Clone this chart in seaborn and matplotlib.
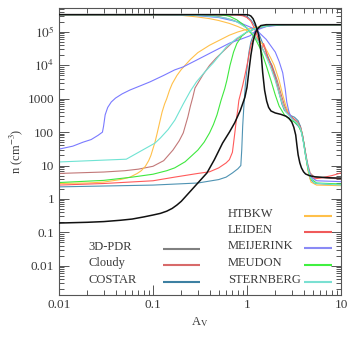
import numpy as np
import pandas as pd
import matplotlib
matplotlib.use("Agg")
import matplotlib.pyplot as plt
import seaborn as sns
from matplotlib.ticker import LogLocator, NullFormatter

# Model names and line colours
models = ["3D-PDR", "Cloudy", "COSTAR", "HTBKW", "LEIDEN", "MEIJERINK", "MEUDON", "STERNBERG"]
colors = ["#111111", "#c27878", "#4f93b3", "#ffc04a", "#ff5a5a", "#7a7aff", "#3ee83e", "#6fe3d3"]
legend_colors = ["#808080", "#d86a6a", "#3d80a2", "#ffc04a", "#f05a5a", "#8a8af5", "#40f040", "#7ae0d2"]

# n(H2) profiles (A_V, n)
h2_av = {
    "3D-PDR":    [0.01, 0.02, 0.03, 0.045, 0.06, 0.08, 0.1, 0.12, 0.14, 0.16, 0.18, 0.2, 0.25, 0.3, 0.375,
                  0.45, 0.55, 0.65, 0.74, 0.85, 0.95, 1.0, 1.05, 1.1, 1.16, 1.22, 1.28, 1.4, 1.6, 10],
    "Cloudy":    [0.01, 0.03, 0.05, 0.07, 0.1, 0.13, 0.163, 0.19, 0.21, 0.235, 0.25, 0.265, 0.28, 0.34,
                  0.4, 0.47, 0.6, 0.71, 1.0, 1.3, 1.8, 2.5, 10],
    "COSTAR":    [0.01, 0.1, 0.3, 0.5, 0.6, 0.7, 0.8, 0.86, 0.88, 0.9, 0.93, 0.96, 1.0, 1.05, 1.1, 1.2,
                  1.35, 1.6, 2.0, 10],
    "HTBKW":     [0.01, 0.02, 0.03, 0.045, 0.057, 0.068, 0.075, 0.083, 0.09, 0.095, 0.1, 0.105, 0.11, 0.118,
                  0.125, 0.133, 0.14, 0.15, 0.16, 0.18, 0.2, 0.25, 0.3, 0.4, 0.5, 0.65, 0.8, 1.0, 1.2, 1.5,
                  2.0, 3.0, 10],
    "LEIDEN":    [0.01, 0.03, 0.1, 0.17, 0.3, 0.4, 0.5, 0.6, 0.65, 0.7, 0.72, 0.75, 0.77, 0.8, 0.82, 0.9,
                  0.95, 1.0, 1.1, 1.25, 1.4, 1.7, 2.5, 10],
    "MEIJERINK": [0.01, 0.014, 0.018, 0.022, 0.026, 0.029, 0.0298, 0.031, 0.033, 0.036, 0.04, 0.047, 0.057,
                  0.075, 0.093, 0.13, 0.17, 0.21, 0.3, 0.45, 0.66, 0.85, 1.08, 1.28, 1.6, 2.2, 3.0, 10],
    "MEUDON":    [0.01, 0.03, 0.06, 0.1, 0.14, 0.17, 0.22, 0.26, 0.3, 0.35, 0.4, 0.44, 0.48, 0.53, 0.58,
                  0.61, 0.66, 0.72, 0.78, 0.88, 1.0, 1.3, 1.8, 2.5, 10],
    "STERNBERG": [0.01, 0.052, 0.105, 0.12, 0.145, 0.171, 0.21, 0.25, 0.29, 0.35, 0.44, 0.6, 0.78, 1.0,
                  1.3, 1.8, 2.5, 10],
}
h2_n = {
    "3D-PDR":    [0.19, 0.2, 0.21, 0.23, 0.25, 0.29, 0.33, 0.37, 0.43, 0.52, 0.66, 0.85, 1.7, 3.0, 6,
                  15, 47, 100, 190, 450, 1100, 2200, 7000, 2e4, 5e4, 9e4, 1.2e5, 1.55e5, 1.65e5, 1.65e5],
    "Cloudy":    [5.8, 6.4, 7, 7.8, 9.5, 14, 29, 55, 95, 285, 600, 1100, 2100, 5200,
                  1e4, 1.65e4, 3.2e4, 5e4, 1e5, 1.3e5, 1.55e5, 1.65e5, 1.65e5],
    "COSTAR":    [2.3, 2.6, 3.0, 3.8, 4.5, 6, 8, 10, 30, 150, 700, 2500, 8000, 2.5e4, 5e4, 1e5,
                  1.4e5, 1.6e5, 1.65e5, 1.65e5],
    "HTBKW":     [2.9, 3.0, 3.2, 3.8, 4.5, 5.8, 7, 9.5, 14, 20, 32, 50, 85, 200,
                  400, 700, 1000, 1800, 2800, 5000, 7500, 1.5e4, 2.4e4, 4e4, 5.5e4, 8e4, 1e5, 1.2e5, 1.35e5, 1.5e5,
                  1.6e5, 1.65e5, 1.65e5],
    "LEIDEN":    [2.6, 2.9, 3.5, 4.5, 5.8, 6.5, 8.5, 12, 15, 25, 47, 120, 230, 500, 900, 2500,
                  5000, 1e4, 4e4, 1e5, 1.4e5, 1.6e5, 1.65e5, 1.65e5],
    "MEIJERINK": [31, 38, 50, 60, 80, 100, 150, 330, 550, 800, 1050, 1400, 1830,
                  2500, 3200, 5000, 7300, 9000, 1.5e4, 2.7e4, 4.7e4, 6e4, 7.7e4, 1.15e5, 1.45e5, 1.6e5, 1.65e5, 1.65e5],
    "MEUDON":    [3.1, 3.6, 4.5, 5.5, 7, 8.5, 13, 20, 29, 50, 95, 170, 330, 900, 2000,
                  3500, 1e4, 2.5e4, 4.5e4, 7.5e4, 1e5, 1.35e5, 1.58e5, 1.65e5, 1.65e5],
    "STERNBERG": [12.8, 15.5, 47, 67, 120, 230, 700, 1700, 3200, 6000, 1.2e4, 3.5e4, 6.5e4, 1e5,
                  1.35e5, 1.58e5, 1.65e5, 1.65e5],
}

# n(H) profiles (A_V, n)
h_av = {
    "3D-PDR":    [0.01, 0.9, 1.0, 1.05, 1.1, 1.16, 1.22, 1.28, 1.33, 1.37, 1.42, 1.47, 1.54, 1.62, 1.7, 1.8,
                  2.0, 2.3, 2.6, 2.8, 3.0, 3.15, 3.3, 3.4, 3.5, 3.65, 3.8, 4.0, 4.2, 4.6, 5.3, 7.6, 10],
    "Cloudy":    [0.01, 0.2, 0.3, 0.4, 0.5, 0.7, 0.85, 1.0, 1.2, 1.4, 1.6, 1.85, 2.1, 2.3, 2.5, 2.7, 3.0,
                  3.4, 3.7, 3.9, 4.1, 4.4, 4.7, 5.2, 7.0, 10],
    "COSTAR":    [0.01, 0.6, 0.8, 0.9, 1.0, 1.1, 1.2, 1.3, 1.45, 1.6, 1.8, 2.0, 2.2, 2.35, 2.5, 2.8, 3.2,
                  3.5, 3.7, 3.9, 4.1, 4.4, 4.7, 5.2, 10],
    "HTBKW":     [0.01, 0.1, 0.15, 0.2, 0.3, 0.4, 0.5, 0.65, 0.8, 1.0, 1.2, 1.4, 1.6, 1.8, 1.95, 2.2, 2.4,
                  2.6, 2.8, 3.1, 3.5, 3.8, 4.0, 4.2, 4.5, 4.8, 5.5, 10],
    "LEIDEN":    [0.01, 0.5, 0.7, 0.8, 0.9, 1.0, 1.1, 1.2, 1.3, 1.38, 1.45, 1.5, 1.55, 1.65, 1.8, 2.0, 2.2,
                  2.4, 2.6, 3.0, 3.4, 3.7, 3.9, 4.1, 4.4, 4.7, 5.2, 6.0, 8.0, 10],
    "MEIJERINK": [0.01, 0.1, 0.25, 0.5, 0.8, 1.08, 1.3, 1.6, 2.0, 2.2, 2.4, 2.55, 2.65, 2.8, 3.0, 3.3,
                  3.6, 3.8, 4.0, 4.2, 4.5, 4.8, 5.5, 10],
    "MEUDON":    [0.01, 0.3, 0.5, 0.6, 0.66, 0.78, 0.88, 1.0, 1.2, 1.4, 1.6, 1.8, 2.0, 2.2, 2.5, 2.8, 3.2,
                  3.5, 3.8, 4.0, 4.2, 4.5, 4.8, 5.5, 10],
    "STERNBERG": [0.01, 0.15, 0.25, 0.35, 0.44, 0.6, 0.78, 1.0, 1.2, 1.4, 1.6, 1.75, 2.0, 2.2, 2.4, 2.6,
                  3.0, 3.4, 3.7, 3.9, 4.1, 4.4, 4.7, 5.2, 10],
}
h_n = {
    "3D-PDR":    [3.3e5, 3.3e5, 3.28e5, 3.2e5, 3.0e5, 2.5e5, 1.8e5, 1.2e5, 8e4, 5e4, 2e4, 6e3, 1.8e3, 850, 550, 430,
                  375, 340, 300, 260, 200, 140, 82, 40, 21, 12, 8.5, 6.5, 5.6, 5.0, 4.6, 4.3, 4.2],
    "Cloudy":    [3.3e5, 3.3e5, 3.2e5, 3.05e5, 2.9e5, 2.3e5, 1.8e5, 1.3e5, 8e4, 4e4, 2e4, 1e4, 3500, 1400, 650, 400, 280,
                  210, 150, 80, 35, 12, 6, 4.5, 4.2, 4.0],
    "COSTAR":    [3.3e5, 3.3e5, 3.28e5, 3.2e5, 2.9e5, 2.3e5, 1.6e5, 1.1e5, 5e4, 2.5e4, 1.1e4, 4500, 1500, 700, 450, 330, 280,
                  220, 150, 80, 35, 10, 4, 2.9, 2.6],
    "HTBKW":     [3.3e5, 3.3e5, 3.25e5, 3.15e5, 2.8e5, 2.5e5, 2.2e5, 1.8e5, 1.45e5, 1.1e5, 8e4, 5e4, 3e4, 1.6e4, 1e4, 3500, 1300,
                  600, 350, 240, 180, 110, 50, 20, 6, 3.2, 2.6, 2.5],
    "LEIDEN":    [3.3e5, 3.3e5, 3.25e5, 3.2e5, 3.05e5, 2.7e5, 2.1e5, 1.3e5, 7e4, 4e4, 3e4, 4.5e4, 3.5e4, 1.8e4, 1e4, 4000, 1500,
                  700, 420, 280, 200, 140, 80, 35, 10, 5, 4, 4.2, 5, 6],
    "MEIJERINK": [3.3e5, 3.3e5, 3.2e5, 2.7e5, 2e5, 1.4e5, 1.05e5, 6e4, 2.5e4, 1.3e4, 6e3, 2000, 800, 400, 250, 180,
                  140, 100, 50, 20, 8, 4.5, 3.5, 3.3],
    "MEUDON":    [3.3e5, 3.3e5, 3.25e5, 3.1e5, 2.9e5, 2.3e5, 1.8e5, 1.3e5, 7e4, 3e4, 1e4, 3500, 1300, 600, 330, 250, 200,
                  160, 100, 50, 20, 7, 4, 3, 2.8],
    "STERNBERG": [3.3e5, 3.3e5, 3.2e5, 3.05e5, 2.9e5, 2.6e5, 2e5, 1.3e5, 8e4, 4e4, 1.8e4, 1e4, 3500, 1400, 650, 400,
                  250, 190, 130, 70, 30, 10, 4.5, 3, 2.6],
}

ytick_vals = [0.01, 0.1, 1, 10, 100, 1000, 1e4, 1e5]
ytick_labels = ["0.01", "0.1", "1", "10", "100", "1000", r"$10^4$", r"$10^5$"]
xtick_vals = [0.01, 0.1, 1, 10]
xtick_labels = ["0.01", "0.1", "1", "10"]

# legend layout (axes fraction): first three entries in the left block, the rest on the right
leg_left_text_x, leg_left_line_x = 0.103, (0.369, 0.500)
leg_left_y = [0.1603, 0.1028, 0.0442]
leg_right_text_x, leg_right_line_x = 0.599, (0.869, 0.968)
leg_right_y = [0.2763, 0.2185, 0.1627, 0.1045, 0.0442]

# long-form table
rows = []
for m in models:
    for a, v in zip(h2_av[m], h2_n[m]):
        rows.append((m, "H2", a, v))
    for a, v in zip(h_av[m], h_n[m]):
        rows.append((m, "H", a, v))
df = pd.DataFrame(rows, columns=["model", "species", "Av", "n"])

sns.set_style("ticks")
plt.rcParams["font.family"] = ["Liberation Serif", "DejaVu Serif"]
plt.rcParams["mathtext.fontset"] = "stix"
txt = "#3a3a3a"

fig = plt.figure(figsize=(3.49, 3.49), dpi=100)
ax = fig.add_axes([0.169, 0.155, 0.808, 0.822])

palette = dict(zip(models, colors))
sns.lineplot(data=df, x="Av", y="n", hue="model", units="species", estimator=None,
             sort=False, palette=palette, hue_order=models, linewidth=0.8, legend=False, ax=ax)
for line in ax.get_lines():
    if line.get_color() == "#111111":
        line.set_linewidth(1.1)
        line.set_zorder(5)

ax.set_xscale("log")
ax.set_yscale("log")
ax.set_xlim(0.01, 10)
ax.set_ylim(1.34e-3, 5.2e5)

ax.set_xticks(xtick_vals, xtick_labels)
ax.set_yticks(ytick_vals, ytick_labels)
ax.xaxis.set_minor_locator(LogLocator(base=10, subs=np.arange(2, 10), numticks=100))
ax.yaxis.set_minor_locator(LogLocator(base=10, subs=np.arange(2, 10), numticks=100))
ax.xaxis.set_minor_formatter(NullFormatter())
ax.yaxis.set_minor_formatter(NullFormatter())
ax.tick_params(which="both", direction="in", top=True, right=True, colors="#555555",
               labelcolor=txt, labelsize=9.5, width=0.7)
ax.tick_params(which="major", length=7)
ax.tick_params(which="minor", length=3.5)
ax.tick_params(axis="x", pad=3)
for s in ax.spines.values():
    s.set_color("#555555")
    s.set_linewidth(0.8)

ax.set_xlabel(r"A$_{\rm V}$", color=txt, fontsize=9, labelpad=3)
ax.set_ylabel(r"n (cm$^{-3}$)", color=txt, fontsize=9, labelpad=2)

# legend: label text followed by a line sample
for i, m in enumerate(models):
    if i < 3:
        tx, (x0, x1), y = leg_left_text_x, leg_left_line_x, leg_left_y[i]
    else:
        tx, (x0, x1), y = leg_right_text_x, leg_right_line_x, leg_right_y[i - 3]
    ax.text(tx, y - 0.0035, m, transform=ax.transAxes, ha="left", va="baseline",
            fontsize=9, color=txt)
    ax.plot([x0, x1], [y, y], transform=ax.transAxes, color=legend_colors[i], lw=1.5,
            solid_capstyle="butt")

fig.savefig("out.png", dpi=100)
